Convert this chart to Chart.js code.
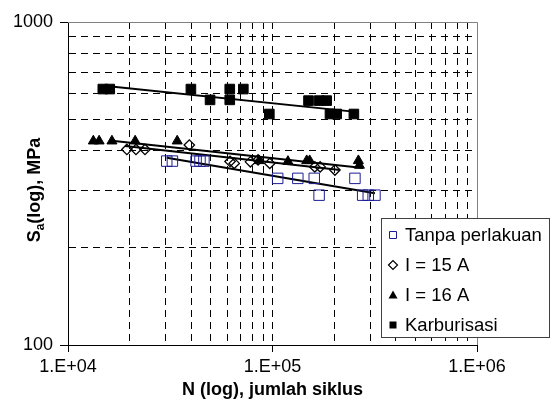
<!DOCTYPE html>
<html>
<head>
<meta charset="utf-8">
<script src="https://cdn.jsdelivr.net/npm/chart.js@4.4.1/dist/chart.umd.min.js"></script>
<style>
  html, body { margin: 0; padding: 0; background: #fff; }
  #wrap { width: 551px; height: 401px; }
</style>
</head>
<body>
<div id="wrap"><canvas id="chart" width="551" height="401"></canvas></div>
<script>
// values (N cycles, stress amplitude MPa)
const tanpaN = [3.04e4, 3.24e4, 4.23e4, 4.42e4, 4.62e4, 1.06e5, 1.33e5, 1.60e5, 1.69e5, 2.53e5, 2.76e5, 2.94e5, 3.17e5];
const tanpaS = [371, 371, 371, 371, 371, 328, 328, 328, 291, 328, 291, 291, 291];

const i15N = [1.94e4, 2.15e4, 2.38e4, 3.92e4, 6.2e4, 6.5e4, 7.8e4, 8.5e4, 9.7e4, 1.61e5, 1.71e5, 2.02e5];
const i15S = [403, 403, 403, 416, 370, 365, 369, 374, 365, 356, 356, 348];

const i16N = [1.33e4, 1.42e4, 1.64e4, 2.13e4, 3.42e4, 8.6e4, 1.19e5, 1.47e5, 1.52e5, 2.63e5, 2.66e5];
const i16S = [428, 428, 428, 428, 428, 372, 370, 372, 372, 372, 360];

const karbN = [1.48e4, 1.60e4, 3.99e4, 4.95e4, 6.18e4, 6.18e4, 7.2e4, 9.65e4, 1.50e5, 1.69e5, 1.84e5, 1.91e5, 2.06e5, 2.5e5];
const karbS = [620, 620, 620, 574, 620, 574, 620, 519, 571, 571, 571, 519, 519, 519];

// trend line end points
const tanpaFitN = [3.04e4, 3.17e5];
const tanpaFitS = [380, 295];
const i15FitN = [1.90e4, 2.14e5];
const i15FitS = [413, 348];
const i16FitN = [1.60e4, 2.77e5];
const i16FitS = [430, 353];
const karbFitN = [1.50e4, 2.62e5];
const karbFitS = [635, 526];

// axis ticks
const xTicks = [1e4, 2e4, 3e4, 4e4, 5e4, 6e4, 7e4, 8e4, 9e4, 1e5, 2e5, 3e5, 4e5, 5e5, 6e5, 7e5, 8e5, 9e5, 1e6];
const xMajor = [1e4, 1e5, 1e6];
const xTickLabels = ['1.E+04', '1.E+05', '1.E+06'];
const yTicks = [100, 200, 300, 400, 500, 600, 700, 800, 900, 1000];
const yMajor = [100, 1000];
const yTickLabels = ['100', '1000'];

const seriesNames = ['Tanpa perlakuan', 'I = 15 A', 'I = 16 A', 'Karburisasi'];

const FONT = "'Liberation Sans', Arial, sans-serif";
const NAVY = '#1c1c96';

const pts = (xs, ys) => xs.map((x, i) => ({ x: x, y: ys[i] }));
const fit = (xs, ys) => ({
  data: pts(xs, ys), showLine: true, pointRadius: 0, borderColor: '#000',
  borderWidth: 2, fill: false
});

// gray top/right frame of the plot
const framePlugin = {
  id: 'frame',
  beforeDatasetsDraw(chart) {
    const { ctx, chartArea: a } = chart;
    ctx.save();
    ctx.strokeStyle = '#808080';
    ctx.lineWidth = 1;
    ctx.beginPath();
    ctx.moveTo(a.left, Math.round(a.top) + 0.5);
    ctx.lineTo(Math.round(a.right) + 0.5, Math.round(a.top) + 0.5);
    ctx.lineTo(Math.round(a.right) + 0.5, a.bottom);
    ctx.stroke();
    ctx.restore();
  }
};

function marker(ctx, style, x, y, r, fill, stroke, lw) {
  ctx.save();
  ctx.fillStyle = fill;
  ctx.strokeStyle = stroke;
  ctx.lineWidth = lw;
  ctx.beginPath();
  if (style === 'rect') {
    ctx.rect(x - r, y - r, 2 * r, 2 * r);
  } else if (style === 'rectRot') {
    ctx.moveTo(x - r, y); ctx.lineTo(x, y - r); ctx.lineTo(x + r, y); ctx.lineTo(x, y + r);
    ctx.closePath();
  } else {
    ctx.moveTo(x, y - r); ctx.lineTo(x + r, y + r * 0.8); ctx.lineTo(x - r, y + r * 0.8);
    ctx.closePath();
  }
  ctx.fill();
  if (lw > 0) ctx.stroke();
  ctx.restore();
}

// legend box and axis titles
const annotPlugin = {
  id: 'annot',
  afterDraw(chart) {
    const ctx = chart.ctx;
    const a = chart.chartArea;
    ctx.save();
    // legend
    ctx.fillStyle = '#fff';
    ctx.fillRect(381, 218, 169, 120);
    ctx.strokeStyle = '#404040';
    ctx.lineWidth = 1;
    ctx.strokeRect(381.5, 218.5, 168, 119);
    const rows = [235, 265, 295, 325];
    marker(ctx, 'rect', 393, rows[0], 3.5, 'rgba(0,0,0,0)', NAVY, 1);
    marker(ctx, 'rectRot', 393, rows[1], 4.5, 'rgba(0,0,0,0)', '#000', 1.2);
    marker(ctx, 'triangle', 393, rows[2], 4.5, '#000', '#000', 0);
    marker(ctx, 'rect', 393, rows[3], 3.5, '#000', '#000', 0);
    ctx.fillStyle = '#000';
    ctx.font = '18.5px ' + FONT;
    ctx.textBaseline = 'middle';
    ctx.textAlign = 'left';
    seriesNames.forEach((n, i) => ctx.fillText(n, 405, rows[i] + 1));

    // x title
    ctx.font = 'bold 18px ' + FONT;
    ctx.textAlign = 'center';
    ctx.textBaseline = 'alphabetic';
    ctx.fillText('N (log), jumlah siklus', (a.left + a.right) / 2, 395);

    // y title with subscript
    ctx.translate(40, 190);
    ctx.rotate(-Math.PI / 2);
    const p1 = 'S', p2 = 'a', p3 = '(log), MPa';
    ctx.font = 'bold 18px ' + FONT;
    const w1 = ctx.measureText(p1).width;
    const w3 = ctx.measureText(p3).width;
    ctx.font = 'bold 12px ' + FONT;
    const w2 = ctx.measureText(p2).width;
    let x0 = -(w1 + w2 + w3) / 2;
    ctx.textAlign = 'left';
    ctx.font = 'bold 18px ' + FONT;
    ctx.fillText(p1, x0, 0);
    ctx.font = 'bold 12px ' + FONT;
    ctx.fillText(p2, x0 + w1, 4);
    ctx.font = 'bold 18px ' + FONT;
    ctx.fillText(p3, x0 + w1 + w2, 0);
    ctx.restore();
  }
};

new Chart(document.getElementById('chart'), {
  type: 'scatter',
  data: {
    datasets: [
      { label: seriesNames[0], data: pts(tanpaN, tanpaS), pointStyle: 'rect', pointRadius: 7.4,
        pointBackgroundColor: 'rgba(0,0,0,0)', pointBorderColor: NAVY, pointBorderWidth: 1 },
      { label: seriesNames[1], data: pts(i15N, i15S), pointStyle: 'rectRot', pointRadius: 5.2,
        pointBackgroundColor: 'rgba(0,0,0,0)', pointBorderColor: '#000', pointBorderWidth: 1.3 },
      { label: seriesNames[2], data: pts(i16N, i16S), pointStyle: 'triangle', pointRadius: 5.8,
        pointBackgroundColor: '#000', pointBorderColor: '#000', pointBorderWidth: 1 },
      { label: seriesNames[3], data: pts(karbN, karbS), pointStyle: 'rect', pointRadius: 6.8,
        pointBackgroundColor: '#000', pointBorderColor: '#000', pointBorderWidth: 1 },
      fit(tanpaFitN, tanpaFitS),
      fit(i15FitN, i15FitS),
      fit(i16FitN, i16FitS),
      fit(karbFitN, karbFitS)
    ]
  },
  options: {
    responsive: false,
    animation: false,
    devicePixelRatio: 1,
    layout: { padding: { left: 0, top: 22, right: 74, bottom: 0 } },
    plugins: { legend: { display: false }, tooltip: { enabled: false } },
    scales: {
      x: {
        type: 'logarithmic', min: 1e4, max: 1e6,
        afterBuildTicks: s => { s.ticks = xTicks.map(v => ({ value: v })); },
        afterFit: s => { s.height = 56; },
        grid: {
          color: c => (c.tick && (c.tick.value === 1e4 || c.tick.value === 1e6)) ? 'rgba(0,0,0,0)' : '#000',
          tickColor: c => (c.tick && xMajor.includes(c.tick.value)) ? '#000' : 'rgba(0,0,0,0)',
          tickLength: 7, lineWidth: 1
        },
        border: { display: true, color: '#000', width: 1, dash: [7, 5] },
        ticks: {
          autoSkip: false, maxRotation: 0, padding: 4, color: '#000',
          font: { family: FONT, size: 18 },
          callback: v => { const i = xMajor.indexOf(v); return i >= 0 ? xTickLabels[i] : ''; }
        }
      },
      y: {
        type: 'logarithmic', min: 100, max: 1000,
        afterBuildTicks: s => { s.ticks = yTicks.map(v => ({ value: v })); },
        afterFit: s => { s.width = 68; },
        grid: {
          color: c => (c.tick && (c.tick.value === 100 || c.tick.value === 1000)) ? 'rgba(0,0,0,0)' : '#000',
          tickColor: c => (c.tick && yMajor.includes(c.tick.value)) ? '#000' : 'rgba(0,0,0,0)',
          tickLength: 8, lineWidth: 1
        },
        border: { display: true, color: '#000', width: 1, dash: [7, 5] },
        ticks: {
          autoSkip: false, padding: 7, color: '#000',
          font: { family: FONT, size: 18 },
          callback: v => { const i = yMajor.indexOf(v); return i >= 0 ? yTickLabels[i] : ''; }
        }
      }
    }
  },
  plugins: [framePlugin, annotPlugin]
});
</script>
</body>
</html>
